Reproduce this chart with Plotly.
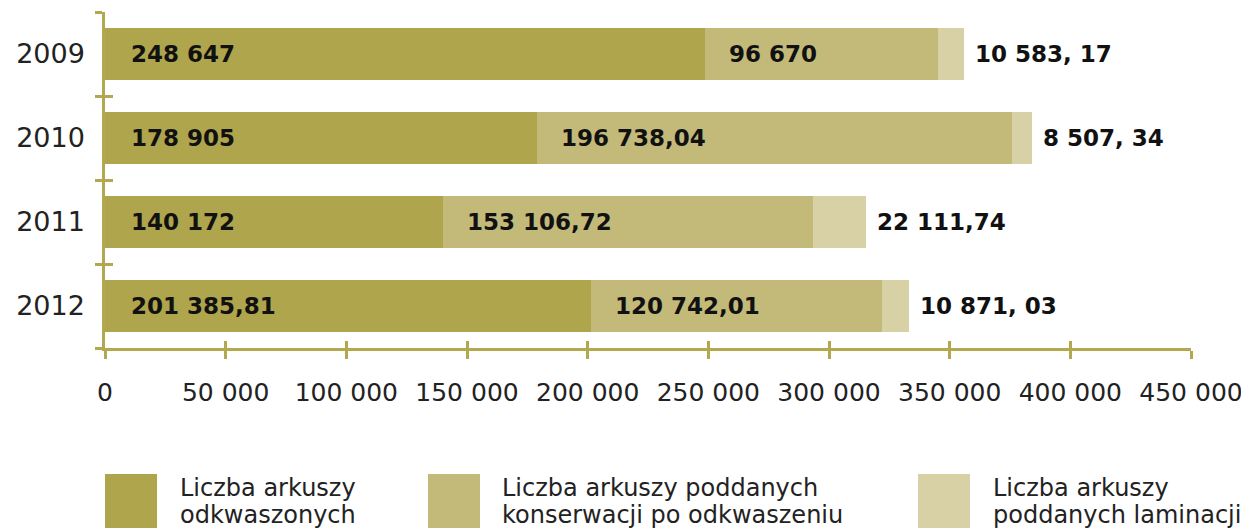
import plotly.graph_objects as go

years = ["2009", "2010", "2011", "2012"]
odkwaszone = [248647, 178905, 140172, 201385.81]
konserwacja = [96670, 196738.04, 153106.72, 120742.01]
laminacja = [10583.17, 8507.34, 22111.74, 10871.03]

lab_odk = ["248 647", "178 905", "140 172", "201 385,81"]
lab_kon = ["96 670", "196 738,04", "153 106,72", "120 742,01"]
lab_lam = ["10 583, 17", "8 507, 34", "22 111,74", "10 871, 03"]

legend_lines = [
    ["Liczba arkuszy", "odkwaszonych"],
    ["Liczba arkuszy poddanych", "konserwacji po odkwaszeniu"],
    ["Liczba arkuszy", "poddanych laminacji"],
]
series_names = [" ".join(l) for l in legend_lines]
colors = ["#AFA54C", "#C3BA7A", "#D8D1A6"]

tick_vals = [0, 50000, 100000, 150000, 200000, 250000, 300000, 350000, 400000, 450000]
tick_text = ["0", "50 000", "100 000", "150 000", "200 000", "250 000",
             "300 000", "350 000", "400 000", "450 000"]

AXIS = "#B3A84F"
FONT = "DejaVu Sans"
OFF = 8                      # page body margin
W, H = 1249 - OFF, 528 - OFF  # figure size
# plot area in page pixels
L, R, T, B = 105, 1191, 12, 348

cat_order = years[::-1]      # bottom to top

fig = go.Figure()
for vals, name, col in zip([odkwaszone, konserwacja, laminacja], series_names, colors):
    fig.add_trace(go.Bar(y=years, x=vals, orientation="h", name=name,
                         marker=dict(color=col, line=dict(width=0)), width=0.62,
                         showlegend=False, hoverinfo="x+y"))

# invisible trace for overlay axes (inside ticks)
fig.add_trace(go.Scatter(x=[0], y=[0], xaxis="x2", yaxis="y2", mode="markers",
                         marker=dict(opacity=0), showlegend=False, hoverinfo="skip"))

bold = dict(family=FONT, size=23, color="#111", weight="bold")
ann = []
for i, y in enumerate(years):
    yi = cat_order.index(y)
    ann.append(dict(x=0, y=yi, text=lab_odk[i], xanchor="left", xshift=24,
                    showarrow=False, font=bold))
    ann.append(dict(x=odkwaszone[i], y=yi, text=lab_kon[i], xanchor="left", xshift=22,
                    showarrow=False, font=bold))
    tot = odkwaszone[i] + konserwacja[i] + laminacja[i]
    ann.append(dict(x=tot, y=yi, text=lab_lam[i], xanchor="left", xshift=9,
                    showarrow=False, font=bold))


def px(xp):
    return (xp - L) / (R - L)


def py(yp):
    return (B - yp) / (B - T)


shapes = []
leg_sq = [105, 428, 918]
leg_tx = [178, 500, 991]
for sx, tx, col, lines in zip(leg_sq, leg_tx, colors, legend_lines):
    shapes.append(dict(type="rect", xref="paper", yref="paper", x0=px(sx), x1=px(sx + 52),
                       y0=py(474), y1=py(540), fillcolor=col, line=dict(width=0), layer="above"))
    for k, line in enumerate(lines):
        ann.append(dict(xref="paper", yref="paper", x=px(tx), y=py(472 + 27 * k), text=line,
                        xanchor="left", yanchor="top", align="left", showarrow=False,
                        font=dict(family=FONT, size=24, color="#222")))

fig.update_layout(
    width=W, height=H, barmode="stack",
    margin=dict(l=L - OFF, r=W - (R - OFF), t=T - OFF, b=H - (B - OFF), pad=0, autoexpand=False),
    plot_bgcolor="white", paper_bgcolor="white",
    xaxis=dict(range=[0, 450000], tickvals=tick_vals, ticktext=tick_text,
               showline=True, linecolor=AXIS, linewidth=2.5, ticks="outside", ticklen=8,
               tickwidth=2.5, tickcolor=AXIS, showgrid=False, zeroline=False,
               ticklabelstandoff=12, automargin=False,
               tickfont=dict(family=FONT, size=25, color="#222")),
    xaxis2=dict(range=[0, 450000], overlaying="x", anchor="y", side="bottom", tickvals=tick_vals,
                ticks="inside", ticklen=7, tickwidth=2.5, tickcolor=AXIS, showticklabels=False,
                showgrid=False, zeroline=False, showline=False),
    yaxis=dict(type="category", categoryorder="array", categoryarray=cat_order,
               range=[-0.5, 3.5], tickson="boundaries", ticks="outside", ticklen=7,
               tickwidth=2.5, tickcolor=AXIS, showline=True, linecolor=AXIS, linewidth=2.5,
               showgrid=False, zeroline=False, ticklabelstandoff=12, automargin=False,
               tickfont=dict(family=FONT, size=27, color="#222")),
    yaxis2=dict(range=[-0.5, 3.5], overlaying="y", anchor="x", side="left",
                tickvals=[-0.5, 0.5, 1.5, 2.5, 3.5], ticks="inside", ticklen=8, tickwidth=2.5,
                tickcolor=AXIS, showticklabels=False, showgrid=False, zeroline=False,
                showline=False),
    annotations=ann, shapes=shapes,
    font=dict(family=FONT),
)

fig.write_html("out.html")
